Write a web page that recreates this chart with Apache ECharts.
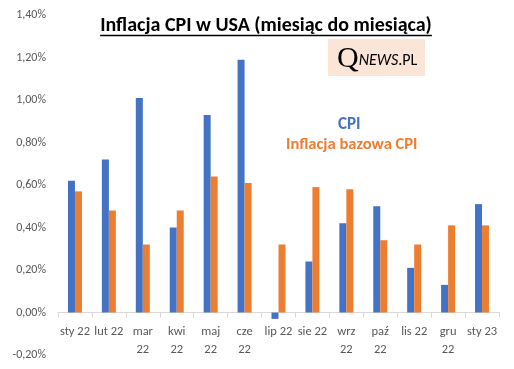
<!DOCTYPE html>
<html><head><meta charset="utf-8">
<script src="https://cdn.jsdelivr.net/npm/echarts@6/dist/echarts.min.js"></script>
<style>html,body{margin:0;padding:0;background:#fff}#c{width:514px;height:369px}</style>
</head><body><div id="c"></div>
<script>
const categories = ['sty 22','lut 22','mar\n22','kwi\n22','maj\n22','cze\n22','lip 22','sie 22','wrz\n22','paź\n22','lis 22','gru\n22','sty 23'];
const cpi =  [0.62, 0.72, 1.01, 0.40, 0.93, 1.19, -0.03, 0.24, 0.42, 0.50, 0.21, 0.13, 0.51];
const core = [0.57, 0.48, 0.32, 0.48, 0.64, 0.61, 0.32, 0.59, 0.58, 0.34, 0.32, 0.41, 0.41];
const yMin = -0.2, yMax = 1.4, yStep = 0.2;
const titleText = 'Inflacja CPI w USA (miesiąc do miesiąca)';
const FONT = 'Carlito, Lato, "Liberation Sans", sans-serif';
const TITLE_SIZE = 20;

const chart = echarts.init(document.getElementById('c'), null, {renderer:'canvas'});
const ctx = document.createElement('canvas').getContext('2d');
ctx.font = 'bold ' + TITLE_SIZE + 'px ' + FONT;
const textW = ctx.measureText(titleText).width;
const cx = 266;
const gridTop = 15, gridBottom = 14, H = 369;
const plotH = H - gridTop - gridBottom;
// move the category axis up to the zero line
const zeroOffset = -plotH * (0 - yMin) / (yMax - yMin);

chart.setOption({
  animation:false,
  backgroundColor:'#fff',
  grid:{left:58, right:15, top:gridTop, bottom:gridBottom, containLabel:false, outerBoundsMode:'none'},
  xAxis:{type:'category', data:categories, offset:zeroOffset,
    axisLine:{onZero:false, lineStyle:{color:'#D9D9D9', width:1}},
    axisTick:{show:true, length:5, lineStyle:{color:'#D9D9D9'}},
    axisLabel:{interval:0, color:'#595959', fontFamily:FONT, fontSize:12.5, margin:10, lineHeight:18}
  },
  yAxis:{type:'value', min:yMin, max:yMax, interval:yStep,
    splitLine:{show:false}, axisLine:{show:false}, axisTick:{show:false},
    axisLabel:{color:'#595959', fontFamily:FONT, fontSize:12, margin:12,
      formatter:v=>v.toFixed(2).replace('.',',')+'%'}
  },
  legend:[
    {data:[{name:'CPI', textStyle:{color:'#4472C4'}}], icon:'none', itemWidth:0, itemHeight:0,
     left:328, top:111, textStyle:{fontFamily:FONT, fontSize:17, fontWeight:'bold'}, selectedMode:false},
    {data:[{name:'Inflacja bazowa CPI', textStyle:{color:'#ED7D31'}}], icon:'none', itemWidth:0, itemHeight:0,
     left:276, top:131, textStyle:{fontFamily:FONT, fontSize:16.5, fontWeight:'bold'}, selectedMode:false}
  ],
  series:[
    {name:'CPI', type:'bar', data:cpi, barWidth:7, barGap:'0%', itemStyle:{color:'#4472C4'}},
    {name:'Inflacja bazowa CPI', type:'bar', data:core, barWidth:7, barGap:'0%', itemStyle:{color:'#ED7D31'}}
  ],
  graphic:[
    {type:'text', x:cx, y:26, style:{text:titleText, fontFamily:FONT, fontSize:TITLE_SIZE, fontWeight:'bold', fill:'#000', align:'center', verticalAlign:'middle'}},
    {type:'line', shape:{x1:cx-textW/2, y1:35.5, x2:cx+textW/2, y2:35.5}, style:{stroke:'#000', lineWidth:1.3}},
    {type:'rect', shape:{x:328, y:39, width:97, height:37}, style:{fill:'#FBE5D6'}},
    {type:'text', x:337, y:74, style:{
      text:'{q|Q}{n|NEWS}{p|.PL}', verticalAlign:'bottom',
      rich:{
        q:{fontFamily:'"Liberation Serif", serif', fontSize:30, fill:'#000', verticalAlign:'bottom'},
        n:{fontFamily:FONT, fontStyle:'italic', fontSize:16, fill:'#000', verticalAlign:'bottom', padding:[0,0,5,0]},
        p:{fontFamily:FONT, fontSize:16, fill:'#000', verticalAlign:'bottom', padding:[0,0,5,0]}
      }}}
  ]
});
</script></body></html>
